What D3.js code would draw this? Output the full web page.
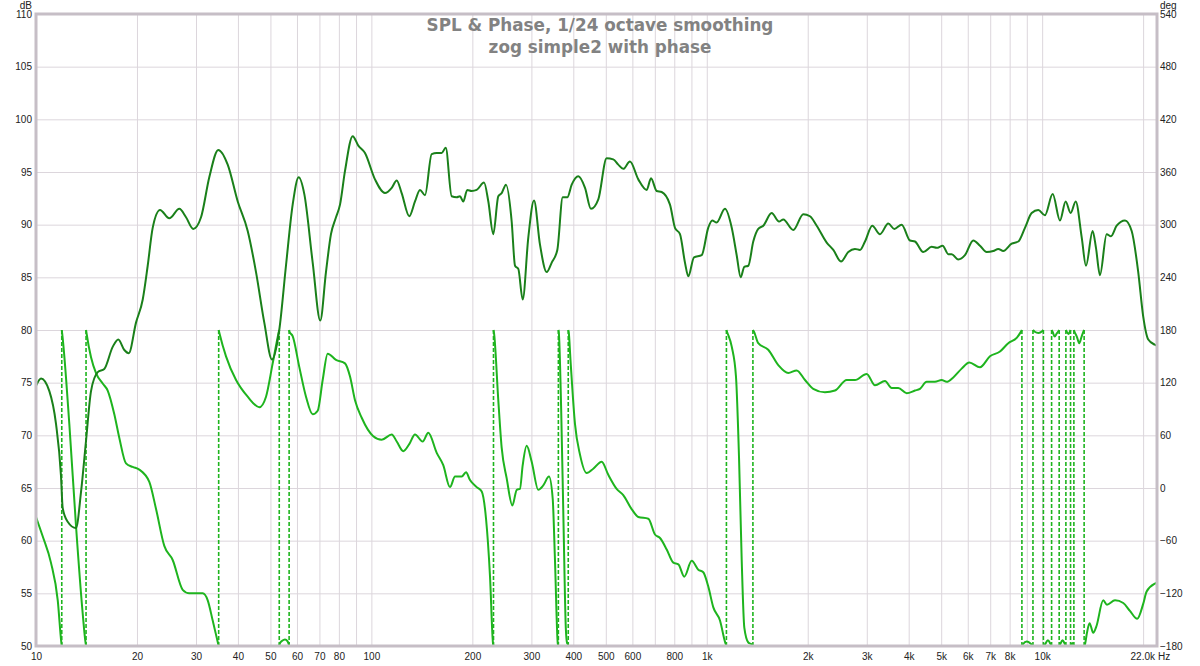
<!doctype html>
<html>
<head>
<meta charset="utf-8">
<style>
    body {
        margin: 0;
        background: #fff;
        font-family: 'Liberation Sans', Arial, sans-serif;
    }
    .grid line { stroke: #dcd6dc; stroke-width: 1; }
    .grid path { stroke-width: 0; }
    .lbl text { font-family: 'Liberation Sans', Arial, sans-serif; font-size: 10px; fill: #222; }
    .lbl path, .lbl line { stroke-width: 0; }
    .unit { font-size: 10px; fill: #222; }
    .title { font-family: 'DejaVu Sans', sans-serif; font-size: 16.8px; font-weight: bold; fill: #828282; }
    .spl { fill: none; stroke: #1a801a; stroke-width: 2; }
    .phase { fill: none; stroke: #1eb41e; stroke-width: 2; }
    .wrap { stroke: #1eb41e; stroke-width: 1.6; stroke-dasharray: 4 2; }
    .frame { fill: none; stroke: #c6bec6; stroke-width: 3; }
</style>
<script src="https://d3js.org/d3.v7.min.js"></script>
</head>
<body>
<svg width="1200" height="666"></svg>
<script>
// SPL, 1/24 octave smoothing
const splFreq = [10, 10.35, 10.96, 11.47, 11.87, 12.01, 12.43, 13.16, 13.62, 14.10, 14.59, 15.28, 15.98, 16.93, 17.59, 18.34, 18.90, 19.87,
    20.81, 21.53, 22.28, 23.43, 24.97, 26.75, 28.01, 29.44, 31.05, 32.86, 34.96, 37.29, 39.95, 42.78, 45.29, 47.94, 50.53, 53.13, 55.63,
    58.25, 60.70, 63.10, 66.83, 70.40, 73.21, 75.77, 78.43, 80.62, 83.43, 87.95, 91.41, 95.70, 102.5, 109.8, 115.0, 119.0, 123.1, 129.7,
    134.9, 139.6, 144.5, 151.3, 156.6, 162.0, 166.6, 173.5, 179.6, 183.7, 187.9, 193.1, 199.1, 206.1, 216.7, 223.2, 230.9, 239.0, 244.6,
    252.0, 262.0, 268.1, 274.2, 282.6, 293.7, 305.4, 318.2, 333.2, 344.9, 358.4, 372.0, 383.9, 395.6, 414.0, 433.5, 451.6, 474.9, 502.9,
    526.2, 544.6, 563.6, 590.2, 625.0, 662.2, 681.9, 708.9, 733.7, 776.8, 803.9, 832.0, 861.0, 881.0, 916.0, 965.6, 1010, 1038, 1070,
    1133, 1187, 1228, 1262, 1294, 1330, 1376, 1424, 1474, 1561, 1642, 1691, 1811, 1940, 2031, 2127, 2278, 2384, 2513, 2642, 2766, 2863,
    2963, 3115, 3284, 3477, 3623, 3811, 4035, 4176, 4421, 4684, 4848, 5051, 5249, 5373, 5622, 5886, 6232, 6525, 6832, 7150, 7399, 7656,
    8111, 8487, 8886, 9305, 9737, 10190, 10750, 11300, 11750, 12160, 12590, 13120, 13510, 14140, 14470, 14870, 15570, 16040, 16680,
    17660, 18490, 19340, 20010, 20720, 21690, 22000];
const splDb = [74.7, 75.4, 74.2, 71.1, 66.2, 63.1, 61.8, 61.2, 64.6, 69.5, 74.2, 76.0, 76.3, 78.4, 79.1, 78.1, 77.8, 80.7,
    82.9, 86.1, 89.7, 91.4, 90.6, 91.5, 90.7, 89.6, 90.7, 94.5, 97.1, 95.7, 92.2, 89.4, 85.5, 80.7, 77.2, 80.0, 86.1,
    91.9, 94.5, 92.9, 86.4, 80.9, 85.5, 89.1, 90.7, 91.9, 95.1, 98.4, 97.5, 96.8, 94.3, 93.0, 93.5, 94.2, 93.0, 90.8,
    92.2, 93.3, 92.8, 96.7, 96.8, 96.8, 97.3, 92.7, 92.6, 92.7, 92.2, 93.3, 93.2, 93.3, 94.0, 92.2, 89.1, 92.7, 93.0,
    93.8, 90.3, 86.1, 85.8, 82.9, 88.8, 92.3, 88.1, 85.5, 86.4, 87.6, 92.6, 92.6, 93.8, 94.6, 93.5, 91.5, 92.4, 96.3,
    96.2, 95.7, 95.3, 96.0, 94.3, 93.3, 94.4, 93.2, 93.1, 91.9, 89.7, 89.1, 86.4, 85.1, 86.9, 87.1, 89.7, 90.4, 90.2,
    91.5, 89.7, 87.1, 85.0, 86.0, 86.1, 88.4, 89.6, 89.9, 91.1, 90.3, 90.5, 89.5, 91.0, 90.8, 89.9, 88.3, 87.6, 86.5, 87.4, 87.7, 87.6,
    88.4, 89.9, 89.1, 90.1, 89.6, 90.0, 88.5, 88.4, 87.4, 87.9, 87.8, 88.0, 87.2, 87.2, 86.7, 87.1, 88.5, 88.0, 87.4, 87.5, 87.7, 87.5,
    88.2, 88.4, 89.7, 91.1, 91.4, 90.9, 92.9, 90.4, 92.2, 91.1, 92.2, 88.8, 86.1, 89.4, 87.8, 85.2, 89.1, 88.9, 89.9,
    90.4, 89.4, 85.5, 81.3, 79.1, 78.6, 78.5];

// phase, wrapped to +/-180
const phaseFreq = [10, 10.47, 11.08, 11.61, 11.90, 11.97, 12.57, 13.16, 13.78, 14.05, 14.15, 14.59, 15.10, 15.81, 16.36, 17.12, 17.72,
    18.55, 19.42, 20.32, 21.77, 22.80, 24.13, 25.56, 27.38, 28.65, 29.99, 31.41, 32.51, 33.64, 34.85, 35.25, 36.86, 39.49, 42.78, 46.33,
    48.51, 50.78, 52.90, 53.35, 54.20, 55.26, 56.20, 56.70, 57.00, 58.25, 60.95, 63.83, 66.83, 69.16, 71.58, 74.07, 78.43, 83.43, 86.36,
    89.37, 93.57, 101.3, 107.3, 115.0, 119.0, 124.5, 129.7, 134.9, 142.2, 147.8, 156.6, 163.8, 171.5, 177.6, 185.9, 191.5, 196.8, 206.1,
    213.3, 219.7, 225.8, 230.5, 232.0, 239.0, 244.6, 253.2, 263.2, 271.3, 277.3, 282.6, 290.4, 300.6, 314.5, 325.5, 338.5, 347.2, 352.7,
    359.5, 362.0, 368.0, 374.0, 380.0, 383.0, 385.5, 387.5, 392.3, 404.6, 418.8, 438.5, 458.8, 486.0, 508.6, 538.6, 563.6, 597.0, 625.0,
    669.5, 700.8, 725.3, 759.5, 794.8, 822.9, 857.0, 901.6, 943.5, 976.3, 1010, 1046, 1095, 1133, 1149, 1187, 1222, 1248, 1271, 1294,
    1330, 1365, 1383, 1424, 1525, 1634, 1750, 1854, 1963, 2077, 2251, 2411, 2614, 2766, 2998, 3174, 3399, 3559, 3724, 3945, 4176, 4322,
    4525, 4790, 5016, 5191, 5433, 5754, 6064, 6525, 6988, 7486, 7925, 8395, 8612, 8762, 9000, 9250, 9500, 9750, 10000, 10200, 10400,
    10600, 10740, 10900, 11050, 11180, 11320, 11500, 11700, 11840, 11980, 12100, 12220, 12300, 12390, 12490, 12700, 12900, 13100, 13280,
    13420, 13600, 13850, 14200, 14500, 15210, 15600, 16490, 17450, 18270, 19210, 20010, 20490, 21690, 22000];
const phaseDeg = [-33, -55, -85, -128, -176, 176, 73, -43, -143, -176, 176, 149, 131, 119, 111, 84, 57,
    28, 24, 21, 7, -24, -66, -82, -116, -120, -120, -120, -128, -151, -176, 176, 150, 123, 104, 92,
    104, 142, 177, -177, -174, -172.5, -174.5, -178, 178, 173, 138, 104, 84, 88, 123, 153, 146, 142, 127,
    100, 80, 59, 55, 61, 53, 42, 50, 61, 53, 63, 40, 26, 1, 13, 13, 18, 9, 1,
    -4, -35, -101, -177, 177, 100, 46, 11, -20, -2, -1, 26, 48, 30, -2, 3, 13, -12, -82,
    -177, 178, 90, -40, -160, -176, -178.5, 178, 146, 73, 38, 17, 22, 30, 15, -1, -8, -24, -33,
    -35, -53, -57, -70, -85, -87, -101, -83, -93, -96, -112, -136, -151, -175, 178, 161, 127, 34, -82, -159,
    -176, -178.5, 178, 165, 157.5, 140, 131, 134, 123, 113, 109, 111, 123, 123, 130, 117, 122, 114, 114, 108, 111, 113,
    121, 121, 123, 121, 126, 136, 143, 137.5, 150, 155.5, 165, 171, 177, -178, -175, -177.5, 178, 176.5, 178.5, -178, -173.5,
    -178, 178, 172.5, 176, 178.5, -178, -173.5, -178, 178, 175.5, 178.5, -178, -176.5, -178.5, 178, 172, 165, 172, 178.5,
    -178, -165, -154, -165, -158, -128, -133, -128, -131, -140, -149, -132, -118, -109, -108];

// axes
const dbTicks = [50, 55, 60, 65, 70, 75, 80, 85, 90, 95, 100, 105, 110];
const degTicks = [-180, -120, -60, 0, 60, 120, 180, 240, 300, 360, 420, 480, 540];
const freqGrid = [20, 30, 40, 50, 60, 70, 80, 90, 100, 200, 300, 400, 500, 600, 700, 800, 900,
    1000, 2000, 3000, 4000, 5000, 6000, 7000, 8000, 9000, 10000, 20000];
const freqTicks = [10, 20, 30, 40, 50, 60, 70, 80, 100, 200, 300, 400, 500, 600, 800,
    1000, 2000, 3000, 4000, 5000, 6000, 7000, 8000, 10000];
const freqLabels = ['10', '20', '30', '40', '50', '60', '70', '80', '100', '200', '300', '400', '500', '600', '800',
    '1k', '2k', '3k', '4k', '5k', '6k', '7k', '8k', '10k'];

const svg = d3.select('svg');
const pLeft = 36, pRight = 1157, pTop = 14, pBottom = 646;

const x = d3.scaleLog().domain([10, 22000]).range([pLeft, pRight]);
const y = d3.scaleLinear().domain([50, 110]).range([pBottom, pTop]);
const yDeg = d3.scaleLinear().domain([-180, 540]).range([pBottom, pTop]);

svg.append('defs').append('clipPath').attr('id', 'plot')
    .append('rect').attr('x', pLeft).attr('y', pTop).attr('width', pRight - pLeft).attr('height', pBottom - pTop);

// grid
svg.append('g').attr('class', 'grid')
    .attr('transform', `translate(0, ${pBottom})`)
    .call(d3.axisBottom(x).tickValues(freqGrid).tickSize(-(pBottom - pTop)).tickFormat(''));
svg.append('g').attr('class', 'grid')
    .attr('transform', `translate(${pLeft}, 0)`)
    .call(d3.axisLeft(y).tickValues(dbTicks).tickSize(-(pRight - pLeft)).tickFormat(''));

// title
svg.append('text').attr('class', 'title').attr('x', 600).attr('y', 30.5)
    .attr('text-anchor', 'middle').text('SPL & Phase, 1/24 octave smoothing');
svg.append('text').attr('class', 'title').attr('x', 600).attr('y', 53)
    .attr('text-anchor', 'middle').text('zog simple2 with phase');

// phase: split at wraps, dashed jump lines
const segments = [];
const wraps = [];
let cur = [{ f: phaseFreq[0], d: phaseDeg[0] }];
for (let i = 1; i < phaseFreq.length; i++) {
    const f0 = phaseFreq[i - 1], f1 = phaseFreq[i];
    const a = phaseDeg[i - 1], b = phaseDeg[i];
    if (Math.abs(b - a) > 180) {
        const down = b > a;               // falling through -180
        const edge = down ? -180 : 180;
        const bu = down ? b - 360 : b + 360;
        const t = (edge - a) / (bu - a);
        const fx = Math.exp(Math.log(f0) + t * (Math.log(f1) - Math.log(f0)));
        cur.push({ f: fx, d: edge });
        segments.push(cur);
        wraps.push(fx);
        cur = [{ f: fx, d: -edge }];
    }
    cur.push({ f: f1, d: b });
}
segments.push(cur);

const plot = svg.append('g').attr('clip-path', 'url(#plot)');

plot.selectAll('.wrap').data(wraps).enter().append('line')
    .attr('class', 'wrap')
    .attr('x1', (d) => x(d)).attr('x2', (d) => x(d))
    .attr('y1', yDeg(180)).attr('y2', yDeg(-180));

const phaseLine = d3.line().x((d) => x(d.f)).y((d) => yDeg(d.d)).curve(d3.curveMonotoneX);
plot.selectAll('.phase').data(segments).enter().append('path')
    .attr('class', 'phase').attr('d', phaseLine);

const splLine = d3.line().x((d, i) => x(splFreq[i])).y((d) => y(d)).curve(d3.curveMonotoneX);
plot.append('path').attr('class', 'spl').attr('d', splLine(splDb));

// frame
svg.append('rect').attr('class', 'frame')
    .attr('x', pLeft).attr('y', pTop).attr('width', pRight - pLeft).attr('height', pBottom - pTop);

// labels
svg.append('g').attr('class', 'lbl')
    .attr('transform', `translate(${pLeft - 4}, 0)`)
    .call(d3.axisLeft(y).tickValues(dbTicks).tickSize(0).tickPadding(0));
svg.append('g').attr('class', 'lbl')
    .attr('transform', `translate(${pRight + 3}, 0)`)
    .call(d3.axisRight(yDeg).tickValues(degTicks).tickSize(0).tickPadding(0));
svg.append('g').attr('class', 'lbl')
    .attr('transform', `translate(0, ${pBottom + 6.5})`)
    .call(d3.axisBottom(x).tickValues(freqTicks).tickSize(0).tickPadding(0)
        .tickFormat((d, i) => freqLabels[i]));

svg.append('text').attr('class', 'unit').attr('x', pRight - 2).attr('y', pBottom + 13.5)
    .attr('text-anchor', 'end').text('22.0k');
svg.append('text').attr('class', 'unit').attr('x', pRight + 1).attr('y', pBottom + 13.5)
    .text('Hz');
svg.append('text').attr('class', 'unit').attr('x', pLeft - 4).attr('y', 8.5)
    .attr('text-anchor', 'end').text('dB');
svg.append('text').attr('class', 'unit').attr('x', pRight + 3).attr('y', 8.5)
    .text('deg');
</script>
</body>
</html>
